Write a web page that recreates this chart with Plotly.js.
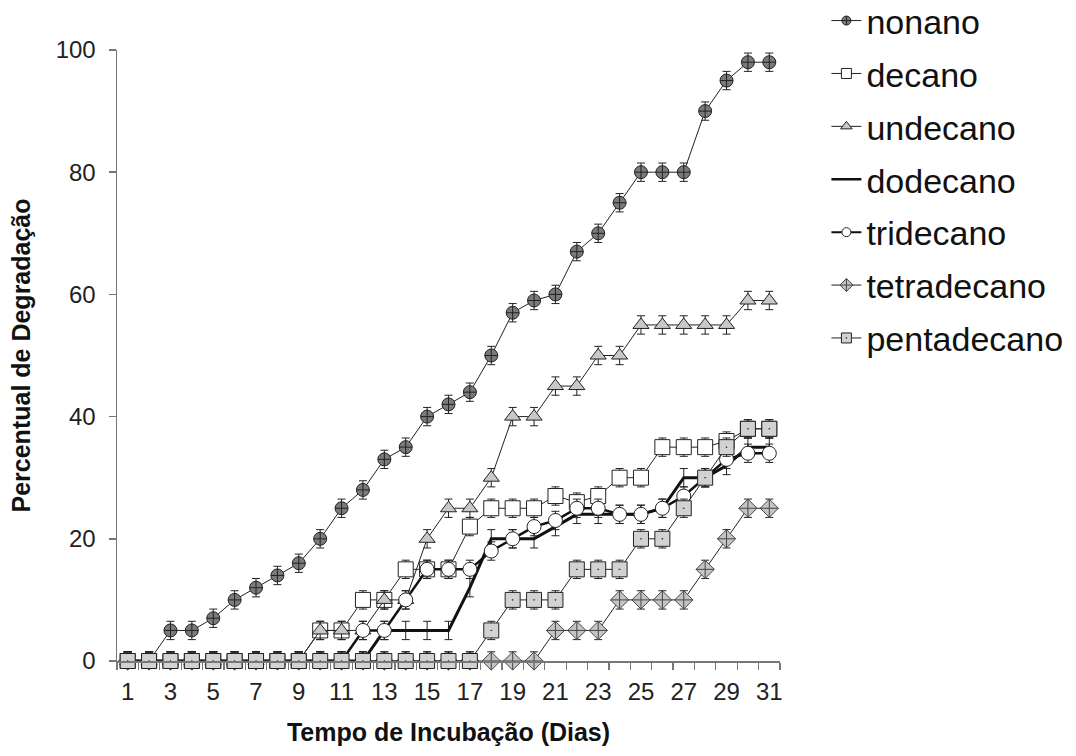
<!DOCTYPE html>
<html>
<head>
<meta charset="utf-8">
<script src="https://cdn.plot.ly/plotly-3.0.1.min.js"></script>
<style>html,body{margin:0;padding:0;background:#fff;}#chart{width:1076px;height:756px;}</style>
</head>
<body>
<div id="chart"></div>
<script>
const days = [1,2,3,4,5,6,7,8,9,10,11,12,13,14,15,16,17,18,19,20,21,22,23,24,25,26,27,28,29,30,31];
const tickDays = [1,3,5,7,9,11,13,15,17,19,21,23,25,27,29,31];
const tickLabels = ["1","3","5","7","9","11","13","15","17","19","21","23","25","27","29","31"];

const nonano      = [0,0,5,5,7,10,12,14,16,20,25,28,33,35,40,42,44,50,57,59,60,67,70,75,80,80,80,90,95,98,98];
const decano      = [0,0,0,0,0,0,0,0,0,5,5,10,10,15,15,15,22,25,25,25,27,26,27,30,30,35,35,35,36,38,38];
const undecano    = [0,0,0,0,0,0,0,0,0,5,5,5,10,10,20,25,25,30,40,40,45,45,50,50,55,55,55,55,55,59,59];
const dodecano    = [0,0,0,0,0,0,0,0,0,0,0,0,5,5,5,5,12,20,20,20,22,24,24,24,24,25,30,30,32,35,35];
const tridecano   = [0,0,0,0,0,0,0,0,0,0,0,5,5,10,15,15,15,18,20,22,23,25,25,24,24,25,27,30,33,34,34];
const tetradecano = [0,0,0,0,0,0,0,0,0,0,0,0,0,0,0,0,0,0,0,0,5,5,5,10,10,10,10,15,20,25,25];
const pentadecano = [0,0,0,0,0,0,0,0,0,0,0,0,0,0,0,0,0,5,10,10,10,15,15,15,20,20,25,30,35,38,38];

const names = ["nonano","decano","undecano","dodecano","tridecano","tetradecano","pentadecano"];
const series = [nonano, decano, undecano, dodecano, tridecano, tetradecano, pentadecano];

const styles = [
  {mode:'lines+markers', line:{color:'#222',width:1}, marker:{symbol:'circle-cross', size:13, color:'#7a7a7a', line:{color:'#222',width:1}}, lm:9},
  {mode:'lines+markers', line:{color:'#222',width:1}, marker:{symbol:'square', size:15, color:'#ffffff', line:{color:'#222',width:1}}, lm:10},
  {mode:'lines+markers', line:{color:'#222',width:1}, marker:{symbol:'triangle-up', size:14, color:'#c8c8c8', line:{color:'#222',width:1}}, lm:10},
  {mode:'lines', line:{color:'#111',width:3}, marker:{}, lm:0},
  {mode:'lines+markers', line:{color:'#111',width:2.5}, marker:{symbol:'circle', size:14, color:'#ffffff', line:{color:'#222',width:1}}, lm:9},
  {mode:'lines+markers', line:{color:'#222',width:1}, marker:{symbol:'diamond-cross', size:14, color:'#c4c4c4', line:{color:'#444',width:1}}, lm:10},
  {mode:'lines+markers', line:{color:'#222',width:1}, marker:{symbol:'square-dot', size:15, color:'#d2d2d2', line:{color:'#222',width:1}}, lm:10}
];

const traces = [];
series.forEach((ys, i) => {
  const s = styles[i];
  traces.push({
    type:'scatter', x: days, y: ys, name: names[i], mode: s.mode,
    line: s.line, marker: s.marker, cliponaxis:false, showlegend:false,
    error_y: {type:'constant', value:1.5, color:'#222', thickness:1, width:4}
  });
});
series.forEach((ys, i) => {
  const s = styles[i];
  const m = Object.assign({}, s.marker, {size: s.lm});
  traces.push({
    type:'scatter', x:[null], y:[null], name: names[i], mode: s.mode, legendgroup: 'g' + i,
    line: {color: s.line.color, width: (i===3 ? 2.5 : (i===4 ? 2 : 1))}, marker: m, showlegend:true
  });
});

const font = 'Liberation Sans, Arial, sans-serif';
const layout = {
  width:1076, height:756,
  margin:{l:117, r:296, t:50, b:95, autoexpand:false},
  paper_bgcolor:'#fff', plot_bgcolor:'#fff',
  font:{family:font, color:'#222'},
  xaxis:{
    range:[0.5,31.5], tickvals: tickDays, ticktext: tickLabels, ticks:'',
    showline:true, linecolor:'#777', linewidth:1.5, showgrid:false, zeroline:false,
    tickfont:{size:24, family:font, color:'#222'}, ticklabelstandoff:9,
    minor:{ticks:'outside', tick0:0.5, dtick:1, ticklen:7, tickcolor:'#777', tickwidth:1.2, showgrid:false},
    title:{text:'Tempo de Incubação (Dias)', font:{size:25, family:font, color:'#111', weight:'bold'}, standoff:19}
  },
  yaxis:{
    range:[0,100], tickvals:[0,20,40,60,80,100], ticks:'outside', ticklen:7, tickcolor:'#777', tickwidth:1.5,
    showline:true, linecolor:'#777', linewidth:1.5, showgrid:false, zeroline:false,
    tickfont:{size:24, family:font, color:'#222'}, ticklabelstandoff:8,
    title:{text:'Percentual de Degradação', font:{size:25, family:font, color:'#111', weight:'bold'}, standoff:18}
  },
  legend:{
    x:1.07, xanchor:'left', y:1.095, yanchor:'top',
    font:{size:34, family:font, color:'#111'},
    itemwidth:30, tracegroupgap:5.7, traceorder:'grouped', bgcolor:'rgba(0,0,0,0)'
  },
  showlegend:true
};

Plotly.newPlot('chart', traces, layout, {displayModeBar:false, staticPlot:true});
</script>
</body>
</html>
